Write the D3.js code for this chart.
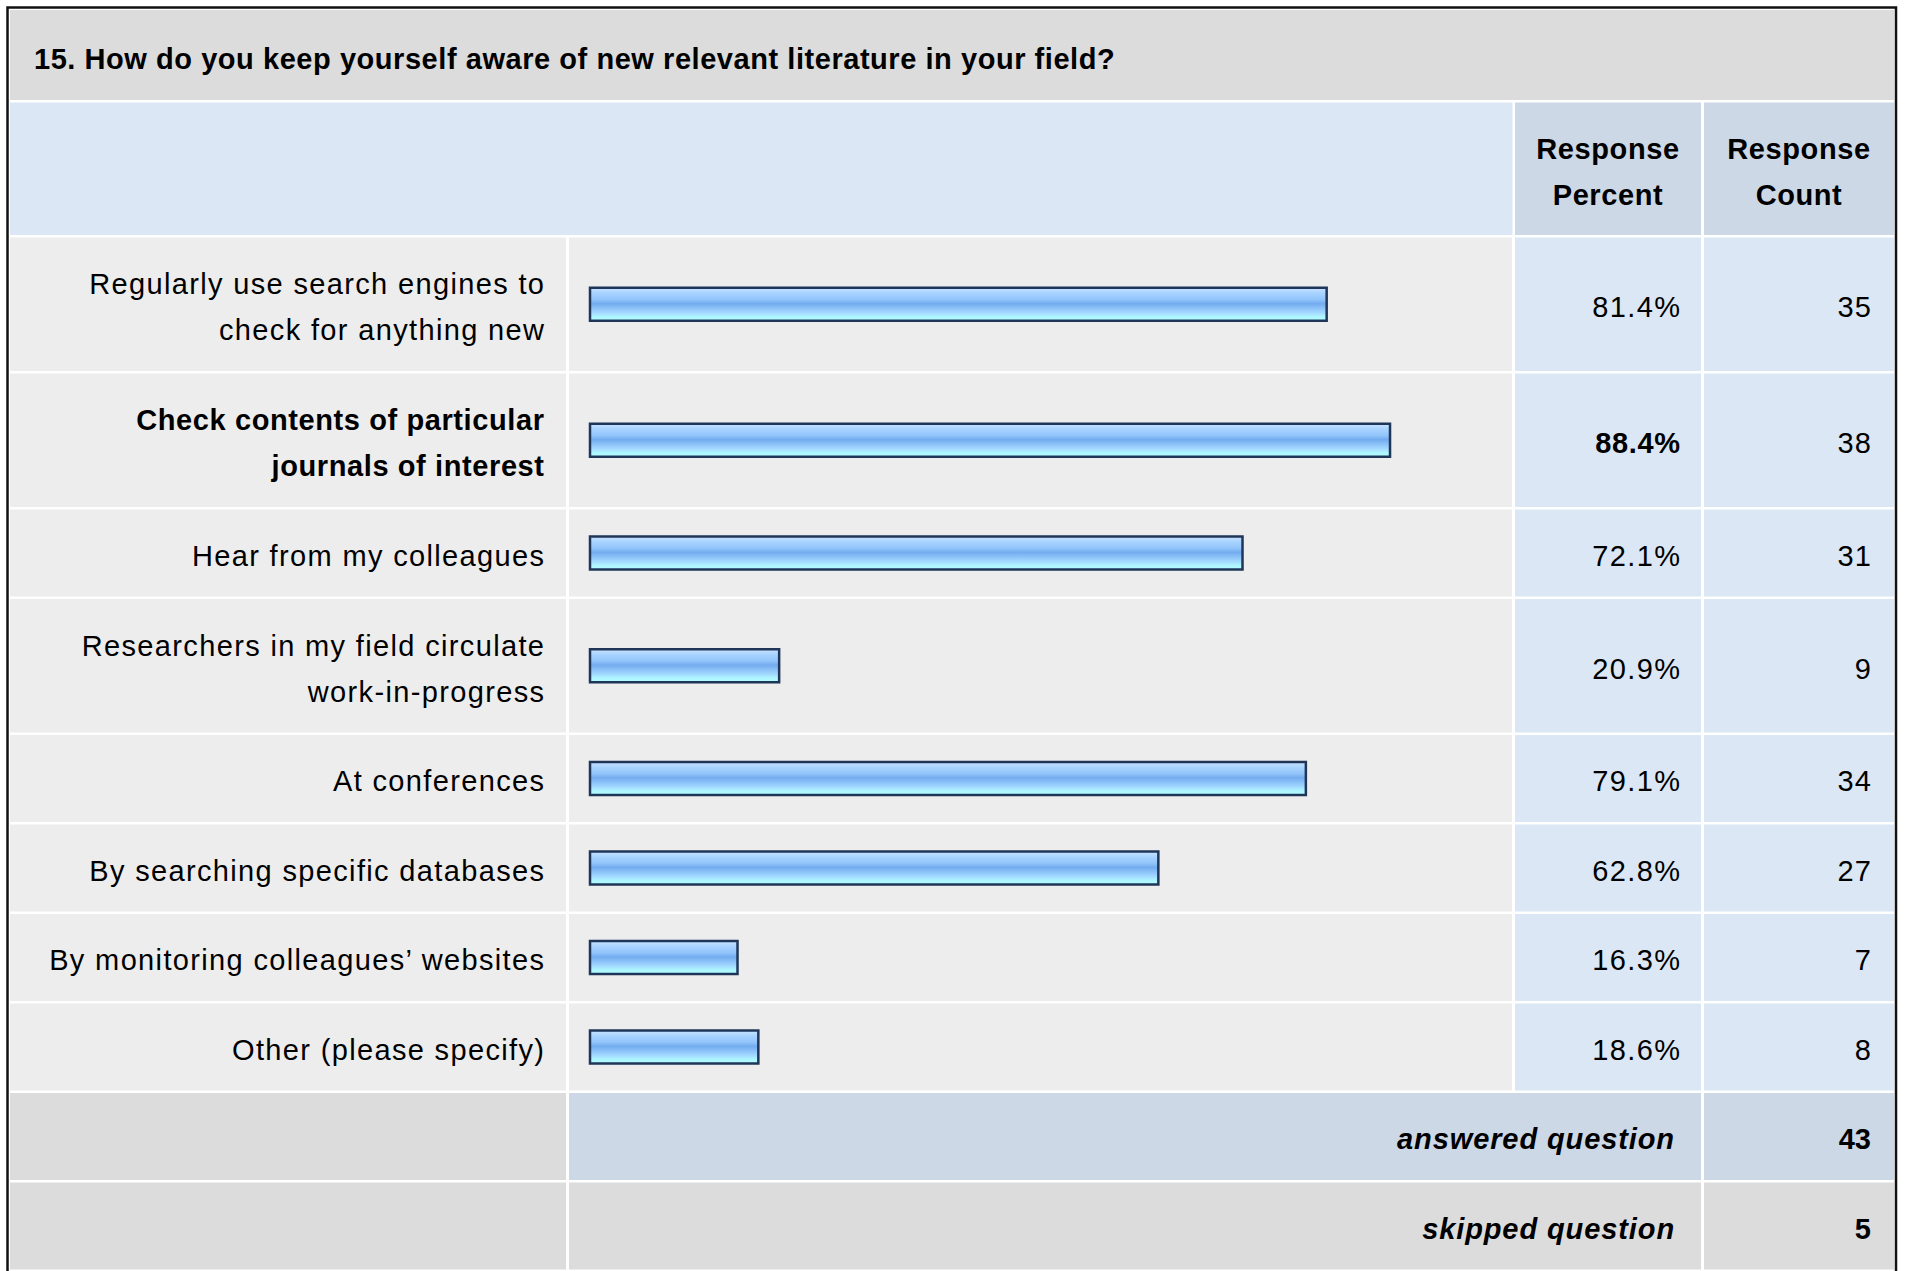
<!DOCTYPE html>
<html>
<head>
<meta charset="utf-8">
<script src="https://cdn.jsdelivr.net/npm/d3@7"></script>
<style>
  body { margin: 0; background: #fff; }
  text { font-family: "Liberation Sans", Arial, Helvetica, sans-serif; fill: #000; }
</style>
</head>
<body>
<div id="wrapper"></div>
<script>
// 0. Data
const title = "15. How do you keep yourself aware of new relevant literature in your field?"
const labels = [
  ["Regularly use search engines to", "check for anything new"],
  ["Check contents of particular", "journals of interest"],
  ["Hear from my colleagues"],
  ["Researchers in my field circulate", "work-in-progress"],
  ["At conferences"],
  ["By searching specific databases"],
  ["By monitoring colleagues\u2019 websites"],
  ["Other (please specify)"],
]
const percents = [81.4, 88.4, 72.1, 20.9, 79.1, 62.8, 16.3, 18.6]
const counts = [35, 38, 31, 9, 34, 27, 7, 8]
const headers = [["Response", "Percent"], ["Response", "Count"]]
const summaryLabels = ["answered question", "skipped question"]
const summaryValues = [43, 5]

async function drawTable() {

  // 1. Dimensions
  const dimensions = {
    width: 1909,
    height: 1271,
    left: 10,
    right: 1894,
    titleTop: 10,
    titleBottom: 100,
    headerBottom: 235,
    gap: 2.5,
    lineRow: 89.5,
    doubleRow: 136,
    labelRight: 566,
    barLeft: 569,
    barRight: 1512,
    pctLeft: 1515,
    pctRight: 1701,
    cntLeft: 1704,
  }

  // text styles
  const regular = { size: 29, weight: "normal", ls: 1.35 }
  const bold = { size: 29, weight: "bold", ls: 0.6 }
  const dy = "0.44em"

  const maxPct = d3.max(percents)

  // build row list: data rows then summary rows
  let y = dimensions.headerBottom + dimensions.gap
  const rows = labels.map((lines, i) => {
    const h = lines.length > 1 ? dimensions.doubleRow : dimensions.lineRow
    const r = { lines, pct: percents[i], count: counts[i], top: y, h: h - dimensions.gap, bold: percents[i] === maxPct }
    y += h
    return r
  })
  const summary = summaryLabels.map((label, i) => {
    const r = { label, value: summaryValues[i], top: y, h: dimensions.lineRow - dimensions.gap }
    y += dimensions.lineRow
    return r
  })

  // 2. Canvas
  const svg = d3.select("#wrapper")
    .append("svg")
      .attr("width", dimensions.width)
      .attr("height", dimensions.height)

  const defs = svg.append("defs")
  const grad = defs.append("linearGradient")
      .attr("id", "barGrad")
      .attr("x1", 0).attr("x2", 0).attr("y1", 0).attr("y2", 1)
  const stops = [
    [0, "#c8e3ff"], [0.18, "#a6d2ff"], [0.35, "#93c5fb"], [0.48, "#73acef"],
    [0.6, "#88bff7"], [0.75, "#a2d8ff"], [0.86, "#adf3ff"], [1, "#b3ffff"],
  ]
  grad.selectAll("stop").data(stops).enter().append("stop")
      .attr("offset", d => d[0])
      .attr("stop-color", d => d[1])

  // 3. Scales
  const xScale = d3.scaleLinear()
    .domain([0, 100])
    .range([590, 1495])

  // 4. Title band + header
  svg.append("rect")
      .attr("x", dimensions.left).attr("y", dimensions.titleTop)
      .attr("width", dimensions.right - dimensions.left)
      .attr("height", dimensions.titleBottom - dimensions.titleTop)
      .attr("fill", "#dcdcdc")

  svg.append("text")
      .attr("x", 34).attr("y", 69)
      .attr("font-size", bold.size)
      .attr("font-weight", "bold")
      .attr("letter-spacing", 0.55)
      .text(title)

  const headerTop = dimensions.titleBottom + dimensions.gap
  const headerH = dimensions.headerBottom - headerTop
  svg.append("rect")
      .attr("x", dimensions.left).attr("y", headerTop)
      .attr("width", dimensions.pctLeft - dimensions.gap - dimensions.left)
      .attr("height", headerH)
      .attr("fill", "#dce7f5")

  const headCols = [
    { x0: dimensions.pctLeft, x1: dimensions.pctRight },
    { x0: dimensions.cntLeft, x1: dimensions.right },
  ]
  headCols.forEach((c, i) => {
    svg.append("rect")
        .attr("x", c.x0).attr("y", headerTop)
        .attr("width", c.x1 - c.x0).attr("height", headerH)
        .attr("fill", "#cdd8e6")
    const cy = headerTop + headerH / 2
    headers[i].forEach((line, j) => {
      svg.append("text")
          .attr("x", (c.x0 + c.x1) / 2)
          .attr("y", cy + (j - 0.5) * 46)
          .attr("dy", dy)
          .attr("text-anchor", "middle")
          .attr("font-size", bold.size)
          .attr("font-weight", "bold")
          .attr("letter-spacing", bold.ls)
          .text(line)
    })
  })

  // 5. Data rows
  const rowG = svg.selectAll("g.row")
    .data(rows)
    .enter().append("g")
      .attr("class", "row")
      .attr("transform", d => `translate(0, ${d.top})`)

  rowG.append("rect")
      .attr("x", dimensions.left).attr("width", dimensions.labelRight - dimensions.left)
      .attr("height", d => d.h).attr("fill", "#ededed")
  rowG.append("rect")
      .attr("x", dimensions.barLeft).attr("width", dimensions.barRight - dimensions.barLeft)
      .attr("height", d => d.h).attr("fill", "#ededed")
  rowG.append("rect")
      .attr("x", dimensions.pctLeft).attr("width", dimensions.pctRight - dimensions.pctLeft)
      .attr("height", d => d.h).attr("fill", "#dce7f5")
  rowG.append("rect")
      .attr("x", dimensions.cntLeft).attr("width", dimensions.right - dimensions.cntLeft)
      .attr("height", d => d.h).attr("fill", "#dce7f5")

  // labels
  rowG.each(function(d) {
    const g = d3.select(this)
    const n = d.lines.length
    const st = d.bold ? bold : regular
    d.lines.forEach((line, j) => {
      g.append("text")
          .attr("x", 544 + st.ls)
          .attr("y", d.h / 2 + (j - (n - 1) / 2) * 46)
          .attr("dy", dy)
          .attr("text-anchor", "end")
          .attr("font-size", st.size)
          .attr("font-weight", st.weight)
          .attr("letter-spacing", st.ls)
          .text(line)
    })
  })

  // bars
  const barH = 33
  rowG.append("rect")
      .attr("x", xScale(0))
      .attr("y", d => d.h / 2 - barH / 2)
      .attr("width", d => xScale(d.pct) - xScale(0))
      .attr("height", barH)
      .attr("fill", "url(#barGrad)")
      .attr("stroke", "#1f3659")
      .attr("stroke-width", 2.5)

  rowG.append("text")
      .attr("x", d => 1680 + (d.bold ? bold.ls : regular.ls))
      .attr("y", d => d.h / 2)
      .attr("dy", dy)
      .attr("text-anchor", "end")
      .attr("font-size", d => d.bold ? bold.size : regular.size)
      .attr("font-weight", d => d.bold ? "bold" : "normal")
      .attr("letter-spacing", d => d.bold ? bold.ls : regular.ls)
      .text(d => d3.format(".1f")(d.pct) + "%")

  rowG.append("text")
      .attr("x", 1871 + regular.ls)
      .attr("y", d => d.h / 2)
      .attr("dy", dy)
      .attr("text-anchor", "end")
      .attr("font-size", regular.size)
      .attr("letter-spacing", regular.ls)
      .text(d => d.count)

  // 6. Summary rows
  const sumFills = [
    { left: "#dcdcdc", mid: "#cdd8e6", right: "#cdd8e6" },
    { left: "#dcdcdc", mid: "#dcdcdc", right: "#dcdcdc" },
  ]
  const sumG = svg.selectAll("g.summary")
    .data(summary)
    .enter().append("g")
      .attr("class", "summary")
      .attr("transform", d => `translate(0, ${d.top})`)

  sumG.append("rect")
      .attr("x", dimensions.left).attr("width", dimensions.labelRight - dimensions.left)
      .attr("height", d => d.h).attr("fill", (d, i) => sumFills[i].left)
  sumG.append("rect")
      .attr("x", dimensions.barLeft).attr("width", dimensions.pctRight - dimensions.barLeft)
      .attr("height", d => d.h).attr("fill", (d, i) => sumFills[i].mid)
  sumG.append("rect")
      .attr("x", dimensions.cntLeft).attr("width", dimensions.right - dimensions.cntLeft)
      .attr("height", d => d.h).attr("fill", (d, i) => sumFills[i].right)

  sumG.append("text")
      .attr("x", 1675)
      .attr("y", d => d.h / 2)
      .attr("dy", dy)
      .attr("text-anchor", "end")
      .attr("font-size", bold.size)
      .attr("font-weight", "bold")
      .attr("font-style", "italic")
      .attr("letter-spacing", 0.9)
      .text(d => d.label)

  sumG.append("text")
      .attr("x", 1871)
      .attr("y", d => d.h / 2)
      .attr("dy", dy)
      .attr("text-anchor", "end")
      .attr("font-size", bold.size)
      .attr("font-weight", "bold")
      .text(d => d.value)

  // 7. Outer border
  svg.append("rect")
      .attr("x", 7.5).attr("y", 7.5)
      .attr("width", dimensions.right - 7.5 + 2)
      .attr("height", dimensions.height + 20)
      .attr("fill", "none")
      .attr("stroke", "#111")
      .attr("stroke-width", 2.5)
}
drawTable()
</script>
</body>
</html>
